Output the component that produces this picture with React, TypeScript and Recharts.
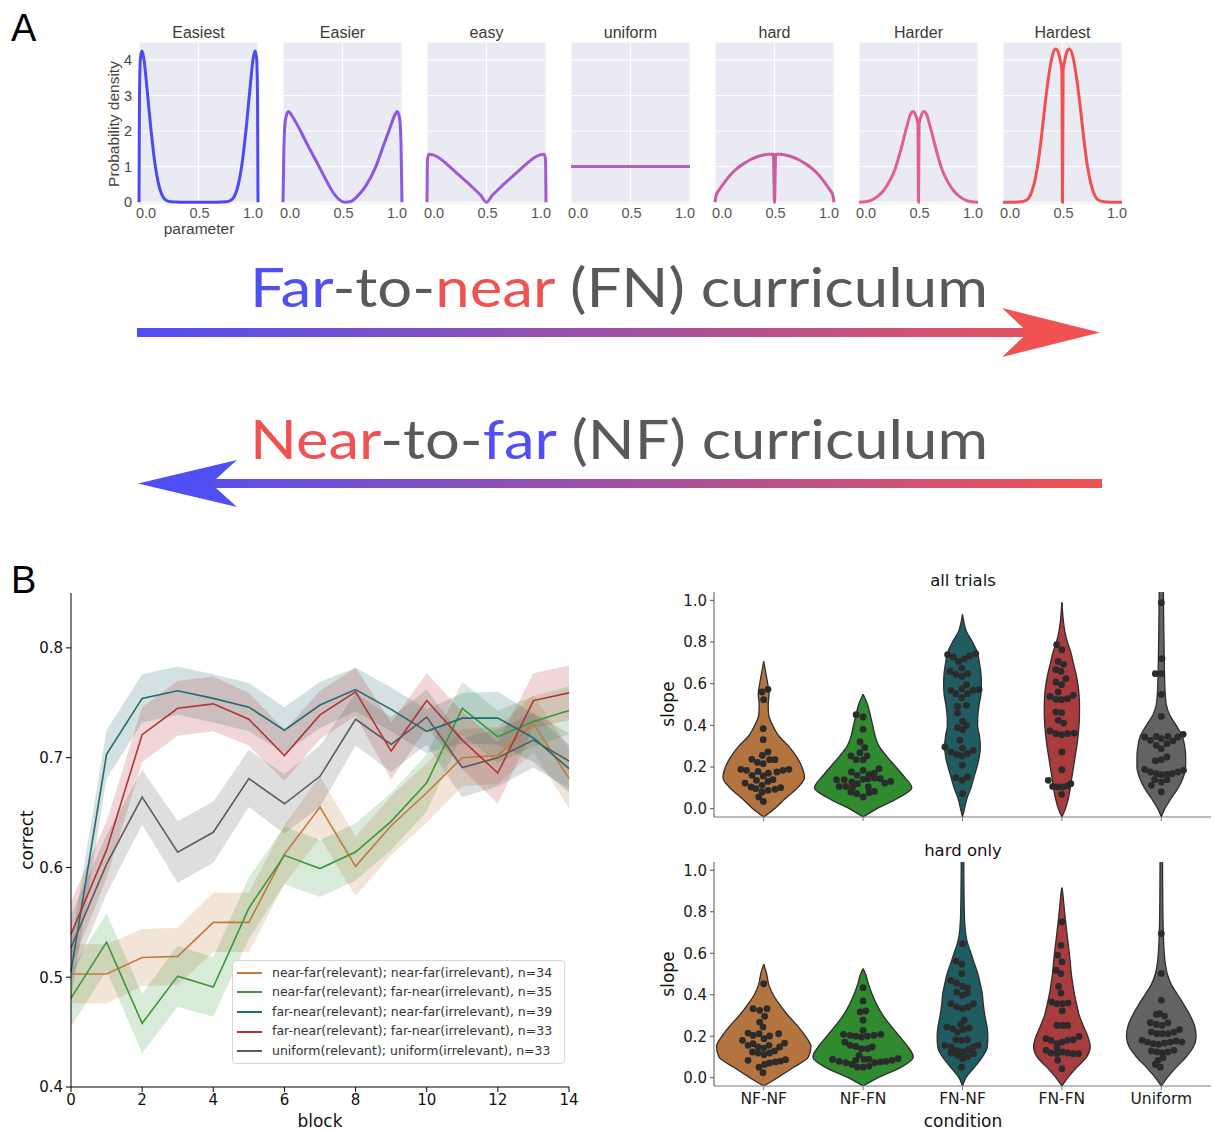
import React from 'react';
import {
  LineChart,
  Line,
  XAxis,
  YAxis,
  CartesianGrid,
  ComposedChart,
  Area,
  Scatter,
  Legend,
} from 'recharts';

const SANS = '"Liberation Sans", Arial, sans-serif';
const DEJAVU = '"DejaVu Sans", sans-serif';
const BLUE = '#4f4ff5';
const RED = '#f05252';
const TEXT_GRAY = '#595959';

/* ---------------- Panel A: sampling distributions ---------------- */
const distNames = ['Easiest', 'Easier', 'easy', 'uniform', 'hard', 'Harder', 'Hardest'];
const distColors = ['#4b4bf5', '#8a58e4', '#a05ad6', '#b55fbe', '#cd5b9d', '#e05f8c', '#f24f4f'];
const paramTicks = [0, 0.5, 1];
const densityTicks = [0, 1, 2, 3, 4];

const easiestPdf: [number, number][] = [
  [0, 0], [0.004, 3.0], [0.012, 4.05], [0.025, 4.25], [0.04, 4.05], [0.06, 3.45], [0.08, 2.75],
  [0.1, 2.05], [0.12, 1.45], [0.14, 0.95], [0.16, 0.58], [0.18, 0.32], [0.2, 0.16], [0.23, 0.05],
  [0.27, 0.01], [0.35, 0], [0.5, 0], [0.65, 0], [0.73, 0.01], [0.77, 0.05], [0.8, 0.16], [0.82, 0.32],
  [0.84, 0.58], [0.86, 0.95], [0.88, 1.45], [0.9, 2.05], [0.92, 2.75], [0.94, 3.45], [0.96, 4.05],
  [0.975, 4.25], [0.988, 4.05], [0.996, 3.0], [1, 0],
];
const easierPdf: [number, number][] = [
  [0, 0], [0.008, 1.6], [0.02, 2.3], [0.045, 2.55], [0.08, 2.4], [0.14, 2.05], [0.2, 1.65],
  [0.28, 1.15], [0.35, 0.7], [0.42, 0.28], [0.47, 0.08], [0.52, 0], [0.57, 0.02], [0.62, 0.15],
  [0.7, 0.48], [0.78, 1.0], [0.84, 1.55], [0.9, 2.1], [0.94, 2.45], [0.96, 2.55], [0.98, 2.35],
  [0.992, 1.6], [1, 0],
];
const easyPdf: [number, number][] = [
  [0, 0], [0.004, 1.2], [0.015, 1.35], [0.05, 1.33], [0.1, 1.25], [0.15, 1.12], [0.2, 0.97],
  [0.25, 0.82], [0.3, 0.67], [0.35, 0.52], [0.4, 0.36], [0.45, 0.2], [0.5, 0], [0.55, 0.2],
  [0.6, 0.36], [0.65, 0.52], [0.7, 0.67], [0.75, 0.82], [0.8, 0.97], [0.85, 1.12], [0.9, 1.25],
  [0.95, 1.33], [0.985, 1.35], [0.996, 1.2], [1, 0],
];
const uniformPdf: [number, number][] = [[0, 1], [1, 1]];
const hardPdf: [number, number][] = [
  [0, 0], [0.01, 0.2], [0.03, 0.32], [0.05, 0.42], [0.1, 0.65], [0.15, 0.84], [0.2, 0.99],
  [0.25, 1.1], [0.3, 1.2], [0.35, 1.27], [0.4, 1.32], [0.45, 1.35], [0.49, 1.35], [0.5, 0],
  [0.51, 1.35], [0.55, 1.35], [0.6, 1.32], [0.65, 1.27], [0.7, 1.2], [0.75, 1.1], [0.8, 0.99],
  [0.85, 0.84], [0.9, 0.65], [0.95, 0.42], [0.97, 0.32], [0.99, 0.2], [1, 0],
];
const harderPdf: [number, number][] = [
  [0, 0], [0.05, 0.01], [0.1, 0.05], [0.15, 0.15], [0.2, 0.3], [0.25, 0.55], [0.3, 0.9],
  [0.35, 1.45], [0.4, 2.1], [0.43, 2.45], [0.455, 2.55], [0.48, 2.4], [0.495, 2.2], [0.5, 0],
  [0.505, 2.2], [0.52, 2.4], [0.545, 2.55], [0.57, 2.45], [0.6, 2.1], [0.65, 1.45], [0.7, 0.9],
  [0.75, 0.55], [0.8, 0.3], [0.85, 0.15], [0.9, 0.05], [0.95, 0.01], [1, 0],
];
const hardestPdf: [number, number][] = [
  [0, 0], [0.1, 0], [0.15, 0.01], [0.2, 0.06], [0.23, 0.2], [0.26, 0.5], [0.29, 1.0], [0.32, 1.75],
  [0.35, 2.65], [0.38, 3.45], [0.41, 4.05], [0.44, 4.3], [0.46, 4.25], [0.48, 4.0], [0.495, 3.7],
  [0.5, 0], [0.505, 3.7], [0.52, 4.0], [0.54, 4.25], [0.56, 4.3], [0.59, 4.05], [0.62, 3.45],
  [0.65, 2.65], [0.68, 1.75], [0.71, 1.0], [0.74, 0.5], [0.77, 0.2], [0.8, 0.06], [0.85, 0.01],
  [0.9, 0], [1, 0],
];
const distCurves = [easiestPdf, easierPdf, easyPdf, uniformPdf, hardPdf, harderPdf, hardestPdf];

/* ---------------- Panel B: learning curves ---------------- */
const blocks = [0, 1, 2, 3, 4, 5, 6, 7, 8, 9, 10, 11, 12, 13, 14];
const blockTicks = [0, 2, 4, 6, 8, 10, 12, 14];
const correctTicks = [0.4, 0.5, 0.6, 0.7, 0.8];

const nfnfMean = [0.503, 0.503, 0.518, 0.519, 0.55, 0.55, 0.612, 0.655, 0.601, 0.638, 0.668, 0.7, 0.702, 0.731, 0.681];
const nfnfErr = [0.027, 0.027, 0.026, 0.026, 0.027, 0.027, 0.027, 0.028, 0.027, 0.027, 0.027, 0.026, 0.026, 0.026, 0.027];
const nffnMean = [0.481, 0.532, 0.458, 0.501, 0.491, 0.563, 0.611, 0.599, 0.614, 0.642, 0.677, 0.745, 0.719, 0.733, 0.743];
const nffnErr = [0.026, 0.026, 0.027, 0.028, 0.027, 0.028, 0.026, 0.026, 0.026, 0.026, 0.026, 0.024, 0.024, 0.023, 0.022];
const fnnfMean = [0.505, 0.703, 0.754, 0.761, 0.754, 0.746, 0.725, 0.748, 0.762, 0.744, 0.724, 0.736, 0.736, 0.718, 0.69];
const fnnfErr = [0.025, 0.022, 0.022, 0.022, 0.022, 0.022, 0.021, 0.021, 0.02, 0.02, 0.02, 0.023, 0.024, 0.022, 0.022];
const fnfnMean = [0.539, 0.616, 0.721, 0.745, 0.749, 0.735, 0.702, 0.739, 0.76, 0.706, 0.752, 0.716, 0.686, 0.752, 0.759];
const fnfnErr = [0.03, 0.026, 0.025, 0.025, 0.025, 0.024, 0.023, 0.022, 0.022, 0.026, 0.025, 0.026, 0.028, 0.025, 0.025];
const uniMean = [0.527, 0.603, 0.664, 0.614, 0.632, 0.681, 0.658, 0.683, 0.735, 0.712, 0.737, 0.691, 0.7, 0.716, 0.697];
const uniErr = [0.03, 0.027, 0.025, 0.028, 0.028, 0.026, 0.027, 0.028, 0.024, 0.025, 0.025, 0.027, 0.026, 0.025, 0.025];

const curricula = [
  { key: 'nfnf', label: 'near-far(relevant); near-far(irrelevant), n=34', color: '#c27a3e', mean: nfnfMean, err: nfnfErr },
  { key: 'nffn', label: 'near-far(relevant); far-near(irrelevant), n=35', color: '#3c973c', mean: nffnMean, err: nffnErr },
  { key: 'fnnf', label: 'far-near(relevant); near-far(irrelevant), n=39', color: '#256a6d', mean: fnnfMean, err: fnnfErr },
  { key: 'fnfn', label: 'far-near(relevant); far-near(irrelevant), n=33', color: '#b23434', mean: fnfnMean, err: fnfnErr },
  { key: 'uni', label: 'uniform(relevant); uniform(irrelevant), n=33', color: '#5c5c5c', mean: uniMean, err: uniErr },
];

const lineRows = blocks.map((b, i) => {
  const row: Record<string, number | number[]> = { block: b };
  curricula.forEach((c) => {
    row[c.key] = c.mean[i];
    row[`${c.key}Band`] = [c.mean[i] - c.err[i], c.mean[i] + c.err[i]];
  });
  return row;
});

/* ---------------- Panel B: slope violins ---------------- */
const conditions = ['NF-NF', 'NF-FN', 'FN-NF', 'FN-FN', 'Uniform'];
const violinColors = ['#b3743f', '#2f8a30', '#1f5d63', '#a93c3f', '#636363'];
const slopeTicks = [0, 0.2, 0.4, 0.6, 0.8, 1.0];

// density outline: [slope, half width in category units]
const nfnfAllShape: [number, number][] = [[-0.04, 0], [0, 0.11], [0.05, 0.22], [0.1, 0.34], [0.15, 0.41], [0.2, 0.385], [0.25, 0.33], [0.3, 0.25], [0.35, 0.15], [0.4, 0.09], [0.45, 0.05], [0.5, 0.045], [0.55, 0.055], [0.6, 0.04], [0.65, 0.022], [0.707, 0]];
const nffnAllShape: [number, number][] = [[-0.04, 0], [0, 0.14], [0.05, 0.35], [0.1, 0.49], [0.15, 0.42], [0.2, 0.33], [0.25, 0.24], [0.3, 0.16], [0.35, 0.12], [0.4, 0.097], [0.45, 0.072], [0.5, 0.045], [0.549, 0]];
const fnnfAllShape: [number, number][] = [[-0.04, 0], [0, 0.02], [0.05, 0.045], [0.1, 0.085], [0.15, 0.115], [0.2, 0.145], [0.25, 0.17], [0.3, 0.18], [0.35, 0.17], [0.4, 0.152], [0.45, 0.155], [0.5, 0.168], [0.55, 0.185], [0.6, 0.19], [0.65, 0.185], [0.7, 0.17], [0.75, 0.15], [0.8, 0.1], [0.85, 0.04], [0.9, 0.012], [0.933, 0]];
const fnfnAllShape: [number, number][] = [[-0.04, 0], [0, 0.035], [0.05, 0.065], [0.1, 0.085], [0.15, 0.1], [0.2, 0.117], [0.25, 0.133], [0.3, 0.15], [0.35, 0.163], [0.4, 0.172], [0.45, 0.177], [0.5, 0.177], [0.55, 0.172], [0.6, 0.16], [0.65, 0.14], [0.7, 0.115], [0.75, 0.09], [0.8, 0.055], [0.85, 0.03], [0.9, 0.015], [0.95, 0.006], [0.99, 0]];
const uniAllShape: [number, number][] = [[-0.04, 0], [0, 0.035], [0.05, 0.1], [0.1, 0.17], [0.15, 0.22], [0.2, 0.245], [0.25, 0.245], [0.3, 0.235], [0.35, 0.21], [0.4, 0.15], [0.45, 0.085], [0.5, 0.05], [0.55, 0.04], [0.6, 0.035], [0.7, 0.03], [0.8, 0.027], [0.9, 0.024], [1.0, 0.022], [1.1, 0.02]];

const nfnfHardShape: [number, number][] = [[-0.04, 0], [0, 0.14], [0.05, 0.3], [0.1, 0.45], [0.15, 0.475], [0.2, 0.42], [0.25, 0.34], [0.3, 0.245], [0.35, 0.165], [0.4, 0.095], [0.45, 0.05], [0.5, 0.03], [0.547, 0]];
const nffnHardShape: [number, number][] = [[-0.04, 0], [0, 0.15], [0.05, 0.38], [0.1, 0.505], [0.15, 0.45], [0.2, 0.365], [0.25, 0.28], [0.3, 0.2], [0.35, 0.14], [0.4, 0.093], [0.45, 0.055], [0.5, 0.025], [0.526, 0]];
const fnnfHardShape: [number, number][] = [[-0.04, 0], [0, 0.035], [0.05, 0.12], [0.1, 0.2], [0.15, 0.25], [0.2, 0.255], [0.25, 0.245], [0.3, 0.225], [0.35, 0.21], [0.4, 0.2], [0.45, 0.18], [0.5, 0.155], [0.55, 0.12], [0.6, 0.085], [0.65, 0.05], [0.7, 0.03], [0.8, 0.018], [0.9, 0.015], [1.0, 0.013], [1.1, 0.012]];
const fnfnHardShape: [number, number][] = [[-0.04, 0], [0, 0.06], [0.05, 0.15], [0.1, 0.25], [0.15, 0.285], [0.2, 0.26], [0.25, 0.215], [0.3, 0.175], [0.35, 0.15], [0.4, 0.127], [0.45, 0.11], [0.5, 0.095], [0.55, 0.085], [0.6, 0.075], [0.65, 0.062], [0.7, 0.05], [0.75, 0.038], [0.8, 0.027], [0.85, 0.017], [0.9, 0.006], [0.916, 0]];
const uniHardShape: [number, number][] = [[-0.04, 0], [0, 0.06], [0.05, 0.15], [0.1, 0.25], [0.15, 0.325], [0.2, 0.35], [0.25, 0.335], [0.3, 0.29], [0.35, 0.23], [0.4, 0.165], [0.45, 0.1], [0.5, 0.06], [0.55, 0.04], [0.6, 0.03], [0.7, 0.02], [0.8, 0.016], [0.9, 0.014], [1.0, 0.013], [1.1, 0.012]];

// individual participants: [slope, horizontal swarm offset]
const nfnfAllPts: [number, number][] = [[0.573, 0.043], [0.56, -0.017], [0.523, 0], [0.384, -0.005], [0.331, -0.005], [0.272, 0.043], [0.256, -0.013], [0.237, -0.12], [0.222, -0.063], [0.216, -0.005], [0.235, 0.06], [0.235, 0.113], [0.189, -0.23], [0.184, -0.173], [0.16, -0.117], [0.179, -0.057], [0.157, -0.005], [0.17, 0.047], [0.176, 0.133], [0.184, 0.193], [0.189, 0.253], [0.123, -0.187], [0.104, -0.127], [0.136, -0.073], [0.112, -0.017], [0.131, 0.043], [0.139, 0.093], [0.08, -0.017], [0.088, 0.043], [0.093, 0.113], [0.101, 0.17], [0.096, -0.08], [0.056, -0.05], [0.035, -0.003]];
const nffnAllPts: [number, number][] = [[0.451, -0.07], [0.44, 0], [0.381, 0], [0.32, -0.03], [0.293, 0.017], [0.269, -0.033], [0.253, 0.04], [0.253, -0.123], [0.235, -0.07], [0.235, 0], [0.176, -0.117], [0.16, -0.06], [0.184, 0], [0.163, 0.06], [0.171, 0.113], [0.192, 0.16], [0.139, -0.267], [0.139, -0.19], [0.128, -0.113], [0.12, -0.057], [0.141, 0], [0.144, 0.053], [0.147, 0.117], [0.144, 0.173], [0.123, 0.217], [0.131, 0.277], [0.107, -0.24], [0.107, -0.173], [0.101, -0.107], [0.104, 0.053], [0.08, -0.123], [0.072, -0.063], [0.056, 0], [0.077, 0.06], [0.083, 0.113]];
const fnnfAllPts: [number, number][] = [[0.739, -0.15], [0.728, -0.093], [0.707, -0.04], [0.72, 0.017], [0.733, 0.073], [0.744, 0.133], [0.675, -0.007], [0.659, -0.127], [0.645, -0.067], [0.635, -0.007], [0.648, 0.05], [0.595, 0.04], [0.576, -0.007], [0.568, -0.117], [0.552, -0.067], [0.533, -0.007], [0.552, 0.05], [0.568, 0.107], [0.571, 0.167], [0.491, -0.05], [0.496, 0.04], [0.459, -0.05], [0.419, 0], [0.4, 0.04], [0.389, -0.05], [0.379, 0], [0.328, -0.027], [0.291, 0], [0.296, -0.177], [0.272, -0.117], [0.261, -0.06], [0.253, -0.007], [0.264, 0.05], [0.28, 0.107], [0.208, 0], [0.149, -0.067], [0.136, -0.007], [0.152, 0.05], [0.072, 0]];
const fnfnAllPts: [number, number][] = [[0.787, -0.053], [0.763, 0], [0.707, -0.037], [0.693, 0.017], [0.667, -0.06], [0.659, -0.01], [0.624, 0.04], [0.608, -0.06], [0.595, -0.003], [0.56, -0.037], [0.539, -0.12], [0.525, -0.06], [0.523, -0.003], [0.528, 0.057], [0.544, 0.113], [0.464, -0.06], [0.461, -0.003], [0.424, -0.037], [0.411, 0.017], [0.373, -0.12], [0.36, -0.06], [0.355, -0.003], [0.36, 0.057], [0.363, 0.123], [0.272, 0], [0.187, 0], [0.136, -0.137], [0.107, -0.093], [0.104, -0.043], [0.104, 0.007], [0.109, 0.057], [0.12, 0.09], [0.069, -0.003]];
const uniAllPts: [number, number][] = [[0.989, 0], [0.72, 0.007], [0.648, -0.06], [0.648, 0], [0.549, 0], [0.443, 0], [0.344, -0.167], [0.328, -0.11], [0.347, -0.05], [0.336, 0], [0.347, 0.067], [0.325, 0.117], [0.344, 0.167], [0.357, 0.22], [0.304, -0.05], [0.288, 0], [0.312, 0.057], [0.229, -0.06], [0.235, 0], [0.248, 0.057], [0.189, -0.167], [0.176, -0.11], [0.168, -0.05], [0.163, 0], [0.165, 0.057], [0.168, 0.11], [0.176, 0.167], [0.184, 0.223], [0.139, -0.067], [0.128, 0], [0.139, 0.057], [0.112, -0.1], [0.08, 0]];

const nfnfHardPts: [number, number][] = [[0.453, 0], [0.333, -0.107], [0.325, -0.04], [0.333, 0.033], [0.296, 0.01], [0.268, -0.04], [0.244, -0.007], [0.215, -0.157], [0.204, -0.107], [0.212, -0.047], [0.188, 0.003], [0.201, 0.06], [0.212, 0.15], [0.18, -0.213], [0.156, -0.157], [0.164, -0.107], [0.148, -0.057], [0.143, 0], [0.156, 0.053], [0.148, 0.16], [0.167, 0.21], [0.124, -0.113], [0.119, -0.057], [0.111, 0.003], [0.119, 0.06], [0.129, 0.11], [0.084, -0.157], [0.064, 0.01], [0.071, 0.06], [0.076, 0.117], [0.08, 0.17], [0.087, 0.22], [0.051, -0.047], [0.024, -0.007]];
const nffnHardPts: [number, number][] = [[0.434, 0], [0.37, 0], [0.317, -0.03], [0.322, 0.027], [0.277, 0], [0.228, 0], [0.209, -0.197], [0.204, -0.13], [0.2, -0.073], [0.196, -0.017], [0.2, 0.043], [0.204, 0.11], [0.209, 0.177], [0.172, -0.183], [0.156, -0.13], [0.151, -0.073], [0.14, -0.017], [0.14, 0.043], [0.148, 0.093], [0.108, -0.04], [0.088, 0.01], [0.084, -0.073], [0.088, -0.307], [0.079, -0.24], [0.072, -0.173], [0.064, -0.113], [0.051, -0.057], [0.051, 0], [0.056, 0.06], [0.072, 0.117], [0.076, 0.177], [0.079, 0.233], [0.084, 0.293], [0.092, 0.353], [0.09, 0.06]];
const fnnfHardPts: [number, number][] = [[0.646, 0], [0.563, -0.067], [0.547, -0.007], [0.502, -0.007], [0.469, -0.117], [0.457, -0.06], [0.441, 0], [0.432, 0.05], [0.413, -0.057], [0.397, 0], [0.408, 0.05], [0.357, -0.117], [0.341, -0.06], [0.333, 0], [0.341, 0.057], [0.357, 0.11], [0.277, 0.017], [0.257, -0.017], [0.244, -0.157], [0.236, -0.1], [0.22, -0.05], [0.232, 0.01], [0.24, 0.067], [0.183, -0.067], [0.18, -0.01], [0.183, 0.05], [0.156, -0.177], [0.148, -0.117], [0.132, -0.06], [0.124, 0], [0.135, 0.057], [0.148, 0.11], [0.156, 0.157], [0.108, -0.05], [0.092, 0], [0.1, 0.05], [0.116, 0.11], [0.119, -0.117], [0.051, -0.01]];
const fnfnHardPts: [number, number][] = [[0.751, 0], [0.638, -0.01], [0.59, -0.043], [0.558, 0], [0.518, -0.06], [0.502, -0.01], [0.44, -0.033], [0.408, -0.01], [0.365, -0.103], [0.357, -0.05], [0.357, 0.007], [0.36, 0.063], [0.322, 0.003], [0.252, -0.05], [0.252, 0.007], [0.252, 0.057], [0.188, -0.16], [0.18, -0.11], [0.164, -0.05], [0.172, 0], [0.18, 0.057], [0.183, 0.113], [0.199, 0.173], [0.132, -0.16], [0.119, -0.11], [0.116, -0.05], [0.124, 0.007], [0.119, 0.057], [0.116, 0.113], [0.116, 0.167], [0.043, 0], [0.145, -0.05], [0.084, -0.043]];
const uniHardPts: [number, number][] = [[0.695, 0], [0.502, 0], [0.373, 0], [0.309, -0.017], [0.297, 0.033], [0.305, -0.05], [0.265, -0.11], [0.257, -0.05], [0.252, 0.007], [0.264, 0.067], [0.22, -0.1], [0.212, -0.043], [0.212, 0.01], [0.212, 0.067], [0.22, 0.127], [0.232, 0.183], [0.18, -0.193], [0.172, -0.14], [0.164, -0.083], [0.161, -0.027], [0.167, 0.033], [0.172, 0.09], [0.177, 0.15], [0.172, 0.207], [0.129, -0.1], [0.124, -0.043], [0.119, 0.01], [0.124, 0.067], [0.132, 0.127], [0.084, -0.033], [0.096, 0.017], [0.064, -0.06], [0.051, -0.01]];

const allTrialShapes = [nfnfAllShape, nffnAllShape, fnnfAllShape, fnfnAllShape, uniAllShape];
const allTrialPoints = [nfnfAllPts, nffnAllPts, fnnfAllPts, fnfnAllPts, uniAllPts];
const hardShapes = [nfnfHardShape, nffnHardShape, fnnfHardShape, fnfnHardShape, uniHardShape];
const hardPoints = [nfnfHardPts, nffnHardPts, fnnfHardPts, fnfnHardPts, uniHardPts];

const violinRows = (shape: [number, number][], center: number) =>
  [...shape]
    .sort((a, b) => b[0] - a[0])
    .map(([y, w]) => ({ y, body: [center - w, center + w] }));

const swarmRows = (pts: [number, number][], center: number) =>
  pts.map(([v, off]) => ({ x: center + off, y: v }));

const SwarmDot = (props: any) =>
  props.cx == null || props.cy == null ? null : (
    <circle cx={props.cx} cy={props.cy} r={3.4} fill="#2b2b2b" />
  );

// parameter tick labels sit inside the panel edges
const ParamTick = (props: any) => {
  const { x, y, payload } = props;
  const v = payload.value as number;
  const shift = v === 0 ? 7 : v === 1 ? -5 : 1;
  return (
    <text x={x + shift} y={y} dy="0.71em" textAnchor="middle" fill="#555" fontSize={14.5} fontFamily={SANS}>
      {v.toFixed(1)}
    </text>
  );
};

function DistributionPanel({ index }: { index: number }) {
  const first = index === 0;
  const rows = distCurves[index].map(([x, d]) => ({ x, d }));
  const plotLeft = 139 + 144 * index;
  return (
    <div style={{ position: 'absolute', left: plotLeft - 40, top: 42 }}>
      <LineChart width={174} height={187} data={rows} margin={{ top: 0, right: 15, bottom: 0, left: first ? 0 : 40 }}>
        <CartesianGrid fill="#eaeaf2" stroke="#ffffff" strokeWidth={1} />
        <XAxis
          type="number"
          dataKey="x"
          domain={[0, 1]}
          ticks={paramTicks}
          interval={0}
          axisLine={false}
          tickLine={false}
          tickSize={4}
          tickMargin={0}
          height={25}
          tick={<ParamTick />}
        />
        <YAxis
          type="number"
          domain={[-0.05, 4.5]}
          ticks={densityTicks}
          interval={0}
          hide={!first}
          width={40}
          axisLine={false}
          tickLine={false}
          tickSize={3}
          tickMargin={4}
          tick={{ fill: '#444', fontSize: 14.5, fontFamily: SANS }}
        />
        <Line
          type="monotone"
          dataKey="d"
          stroke={distColors[index]}
          strokeWidth={3}
          dot={false}
          activeDot={false}
          isAnimationActive={false}
        />
      </LineChart>
    </div>
  );
}

const CurriculumLegend = () => (
  <div
    style={{
      boxSizing: 'border-box',
      width: 333,
      height: 104,
      border: '1px solid #d6d6d6',
      borderRadius: 4,
      background: 'rgba(255,255,255,0.85)',
      padding: '2px 0 0 4px',
      fontFamily: DEJAVU,
      fontSize: 12.5,
      color: '#333',
      lineHeight: 1,
    }}
  >
    {curricula.map((c) => (
      <div key={c.key} style={{ display: 'flex', alignItems: 'center', height: 19.6 }}>
        <span style={{ display: 'inline-block', width: 25, height: 2, background: c.color, marginRight: 10 }} />
        <span style={{ whiteSpace: 'nowrap' }}>{c.label}</span>
      </div>
    ))}
  </div>
);

function LearningCurves() {
  return (
    <div style={{ position: 'absolute', left: 0, top: 560 }}>
      <ComposedChart width={600} height={570} data={lineRows} margin={{ top: 33, right: 31, bottom: 0, left: 0 }}>
        <XAxis
          type="number"
          dataKey="block"
          domain={[0, 14]}
          ticks={blockTicks}
          interval={0}
          height={43}
          stroke="#000"
          tickSize={5}
          tickMargin={2}
          tick={{ fill: '#111', fontSize: 15, fontFamily: DEJAVU }}
        />
        <YAxis
          type="number"
          domain={[0.4, 0.85]}
          ticks={correctTicks}
          interval={0}
          width={71}
          stroke="#000"
          tickSize={5}
          tickMargin={3}
          tickFormatter={(v: number) => v.toFixed(1)}
          tick={{ fill: '#111', fontSize: 15, fontFamily: DEJAVU }}
        />
        {curricula.map((c) => (
          <Area
            key={`${c.key}-band`}
            type="linear"
            dataKey={`${c.key}Band`}
            stroke="none"
            fill={c.color}
            fillOpacity={0.2}
            activeDot={false}
            isAnimationActive={false}
          />
        ))}
        {curricula.map((c) => (
          <Line
            key={`${c.key}-line`}
            type="linear"
            dataKey={c.key}
            stroke={c.color}
            strokeWidth={1.6}
            dot={false}
            activeDot={false}
            isAnimationActive={false}
          />
        ))}
        <Legend
          layout="horizontal"
          verticalAlign="middle"
          align="center"
          wrapperStyle={{ left: 232, top: 400, width: 333, height: 104 }}
          content={() => <CurriculumLegend />}
        />
      </ComposedChart>
    </div>
  );
}

function ViolinPanel({
  shapes,
  points,
  top,
  height,
  showLabels,
}: {
  shapes: [number, number][][];
  points: [number, number][][];
  top: number;
  height: number;
  showLabels: boolean;
}) {
  return (
    <div style={{ position: 'absolute', left: 650, top }}>
      <ComposedChart layout="vertical" width={564} height={height} margin={{ top: 27, right: 3, bottom: 0, left: 0 }}>
        <XAxis
          type="number"
          dataKey="x"
          domain={[-0.5, 4.5]}
          ticks={[0, 1, 2, 3, 4]}
          interval={0}
          allowDataOverflow
          height={showLabels ? 45 : 20}
          stroke="#777"
          tickSize={4}
          tickMargin={3}
          tickFormatter={(v: number) => (showLabels ? conditions[v] ?? '' : '')}
          tick={{ fill: '#1a1a1a', fontSize: 15.5, fontFamily: DEJAVU }}
        />
        <YAxis
          type="number"
          dataKey="y"
          domain={[-0.04, 1.04]}
          ticks={slopeTicks}
          interval={0}
          reversed
          allowDataOverflow
          width={64}
          stroke="#555"
          tickSize={4}
          tickMargin={3}
          tickFormatter={(v: number) => v.toFixed(1)}
          tick={{ fill: '#1a1a1a', fontSize: 15, fontFamily: DEJAVU }}
        />
        {shapes.map((s, i) => (
          <Area
            key={`violin-${i}`}
            data={violinRows(s, i)}
            type="monotone"
            dataKey="body"
            fill={violinColors[i]}
            fillOpacity={1}
            stroke="#2e2e2e"
            strokeWidth={1.3}
            activeDot={false}
            isAnimationActive={false}
          />
        ))}
        {points.map((p, i) => (
          <Scatter
            key={`swarm-${i}`}
            data={swarmRows(p, i)}
            shape={SwarmDot}
            fill="#2b2b2b"
            isAnimationActive={false}
          />
        ))}
      </ComposedChart>
    </div>
  );
}

function Labels() {
  const plotCenters = distNames.map((_, i) => 139 + 144 * i + 59.5);
  return (
    <svg width={1214} height={1131} style={{ position: 'absolute', left: 0, top: 0, pointerEvents: 'none' }}>
      <defs>
        <linearGradient id="fnGrad" gradientUnits="userSpaceOnUse" x1={137} y1={0} x2={1100} y2={0}>
          <stop offset="0" stopColor={BLUE} />
          <stop offset="1" stopColor={RED} />
        </linearGradient>
      </defs>

      <text x={11} y={41} fontFamily={SANS} fontSize={38} fill="#000">A</text>
      <text x={11} y={593} fontFamily={SANS} fontSize={38} fill="#000">B</text>

      {distNames.map((n, i) => (
        <text key={n} x={plotCenters[i]} y={38} textAnchor="middle" fontFamily={SANS} fontSize={16} fill="#3a3a3a">
          {n}
        </text>
      ))}
      <text x={199} y={234} textAnchor="middle" fontFamily={SANS} fontSize={15.5} fill="#444">parameter</text>
      <text
        x={119}
        y={124}
        textAnchor="middle"
        fontFamily={SANS}
        fontSize={15.5}
        fill="#444"
        transform="rotate(-90 119 124)"
      >
        Probability density
      </text>

      {/* far-to-near arrow */}
      <text x={250} y={307} fontFamily="Lato, sans-serif" fontSize={54} textLength={738} lengthAdjust="spacingAndGlyphs" style={{ whiteSpace: 'pre' }}>
        <tspan fill={BLUE}>Far</tspan>
        <tspan fill={TEXT_GRAY}>-to-</tspan>
        <tspan fill={RED}>near</tspan>
        <tspan fill={TEXT_GRAY}> (FN) curriculum</tspan>
      </text>
      <rect x={137} y={328} width={900} height={9} fill="url(#fnGrad)" />
      <polygon points="1002,308 1100,332.5 1002,357 1028,332.5" fill={RED} />

      {/* near-to-far arrow */}
      <text x={250} y={459} fontFamily="Lato, sans-serif" fontSize={54} textLength={738} lengthAdjust="spacingAndGlyphs" style={{ whiteSpace: 'pre' }}>
        <tspan fill={RED}>Near</tspan>
        <tspan fill={TEXT_GRAY}>-to-</tspan>
        <tspan fill={BLUE}>far</tspan>
        <tspan fill={TEXT_GRAY}> (NF) curriculum</tspan>
      </text>
      <rect x={205} y={479} width={897} height={9} fill="url(#fnGrad)" />
      <polygon points="237,460 138,483.5 237,507 211,483.5" fill={BLUE} />

      {/* panel B axis titles */}
      <text x={320} y={1127} textAnchor="middle" fontFamily={DEJAVU} fontSize={17} fill="#111">block</text>
      <text x={33} y={840} textAnchor="middle" fontFamily={DEJAVU} fontSize={17} fill="#111" transform="rotate(-90 33 840)">correct</text>

      <text x={963} y={586} textAnchor="middle" fontFamily={DEJAVU} fontSize={16.5} fill="#111">all trials</text>
      <text x={963} y={856} textAnchor="middle" fontFamily={DEJAVU} fontSize={16.5} fill="#111">hard only</text>
      <text x={674} y={704} textAnchor="middle" fontFamily={DEJAVU} fontSize={17} fill="#111" transform="rotate(-90 674 704)">slope</text>
      <text x={674} y={974} textAnchor="middle" fontFamily={DEJAVU} fontSize={17} fill="#111" transform="rotate(-90 674 974)">slope</text>
      <text x={963} y={1127} textAnchor="middle" fontFamily={DEJAVU} fontSize={17} fill="#111">condition</text>
    </svg>
  );
}

export default function App() {
  return (
    <div style={{ position: 'absolute', left: 0, top: 0, width: 1214, height: 1131, background: '#fff', overflow: 'hidden' }}>
      {distNames.map((_, i) => (
        <DistributionPanel key={i} index={i} />
      ))}
      <LearningCurves />
      <ViolinPanel shapes={allTrialShapes} points={allTrialPoints} top={565} height={272} showLabels={false} />
      <ViolinPanel shapes={hardShapes} points={hardPoints} top={835} height={296} showLabels />
      <Labels />
    </div>
  );
}
